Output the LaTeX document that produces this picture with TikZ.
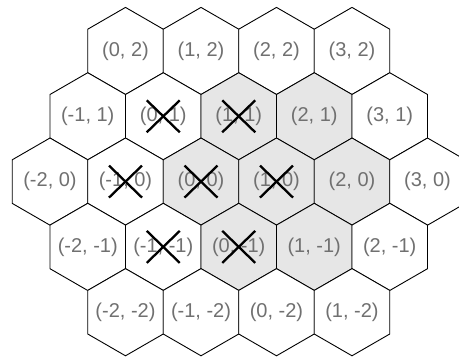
\documentclass[tikz,border=0pt]{standalone}
\usepackage{fontspec}
\setmainfont{Liberation Sans}
\definecolor{cellgray}{RGB}{230,230,230}
\definecolor{labelgray}{RGB}{112,112,112}
\begin{document}
\begin{tikzpicture}[x=1pt,y=1pt,
  hexcell/.style={draw=black,line width=0.9pt,line join=miter},
  celltext/.style={text=labelgray,font=\fontsize{20}{24}\selectfont,inner sep=0pt},
  xmark/.style={draw=black,line width=2.3pt}]
\useasboundingbox (0,0) rectangle (459,361);
\clip (0,0) rectangle (459,361);
\def\s{43.6}
\foreach \q/\r/\f/\mk in {
  0/2/white/0, 1/2/white/0, 2/2/white/0, 3/2/white/0,
  -1/1/white/0, 0/1/white/1, 1/1/cellgray/1, 2/1/cellgray/0, 3/1/white/0,
  -2/0/white/0, -1/0/white/1, 0/0/cellgray/1, 1/0/cellgray/1, 2/0/cellgray/0, 3/0/white/0,
  -2/-1/white/0, -1/-1/white/1, 0/-1/cellgray/1, 1/-1/cellgray/0, 2/-1/white/0,
  -2/-2/white/0, -1/-2/white/0, 0/-2/white/0, 1/-2/white/0} {
  \pgfmathsetmacro\cx{201+75.5*(\q-\r/2)}
  \pgfmathsetmacro\cy{179.4+65.3*\r}
  \draw[hexcell,fill=\f] (\cx,\cy) +(90:\s) -- +(30:\s) -- +(-30:\s) -- +(-90:\s) -- +(-150:\s) -- +(150:\s) -- cycle;
  \node[celltext] (cell\q\r) at (\cx,\cy) {(\q, \r)};
  \ifnum\mk=1
    \draw[xmark] (\cx-16.5,\cy+16) -- (\cx+16.5,\cy-16);
    \draw[xmark] (\cx-16.5,\cy-16) -- (\cx+16.5,\cy+16);
  \fi
}
\end{tikzpicture}
\end{document}
